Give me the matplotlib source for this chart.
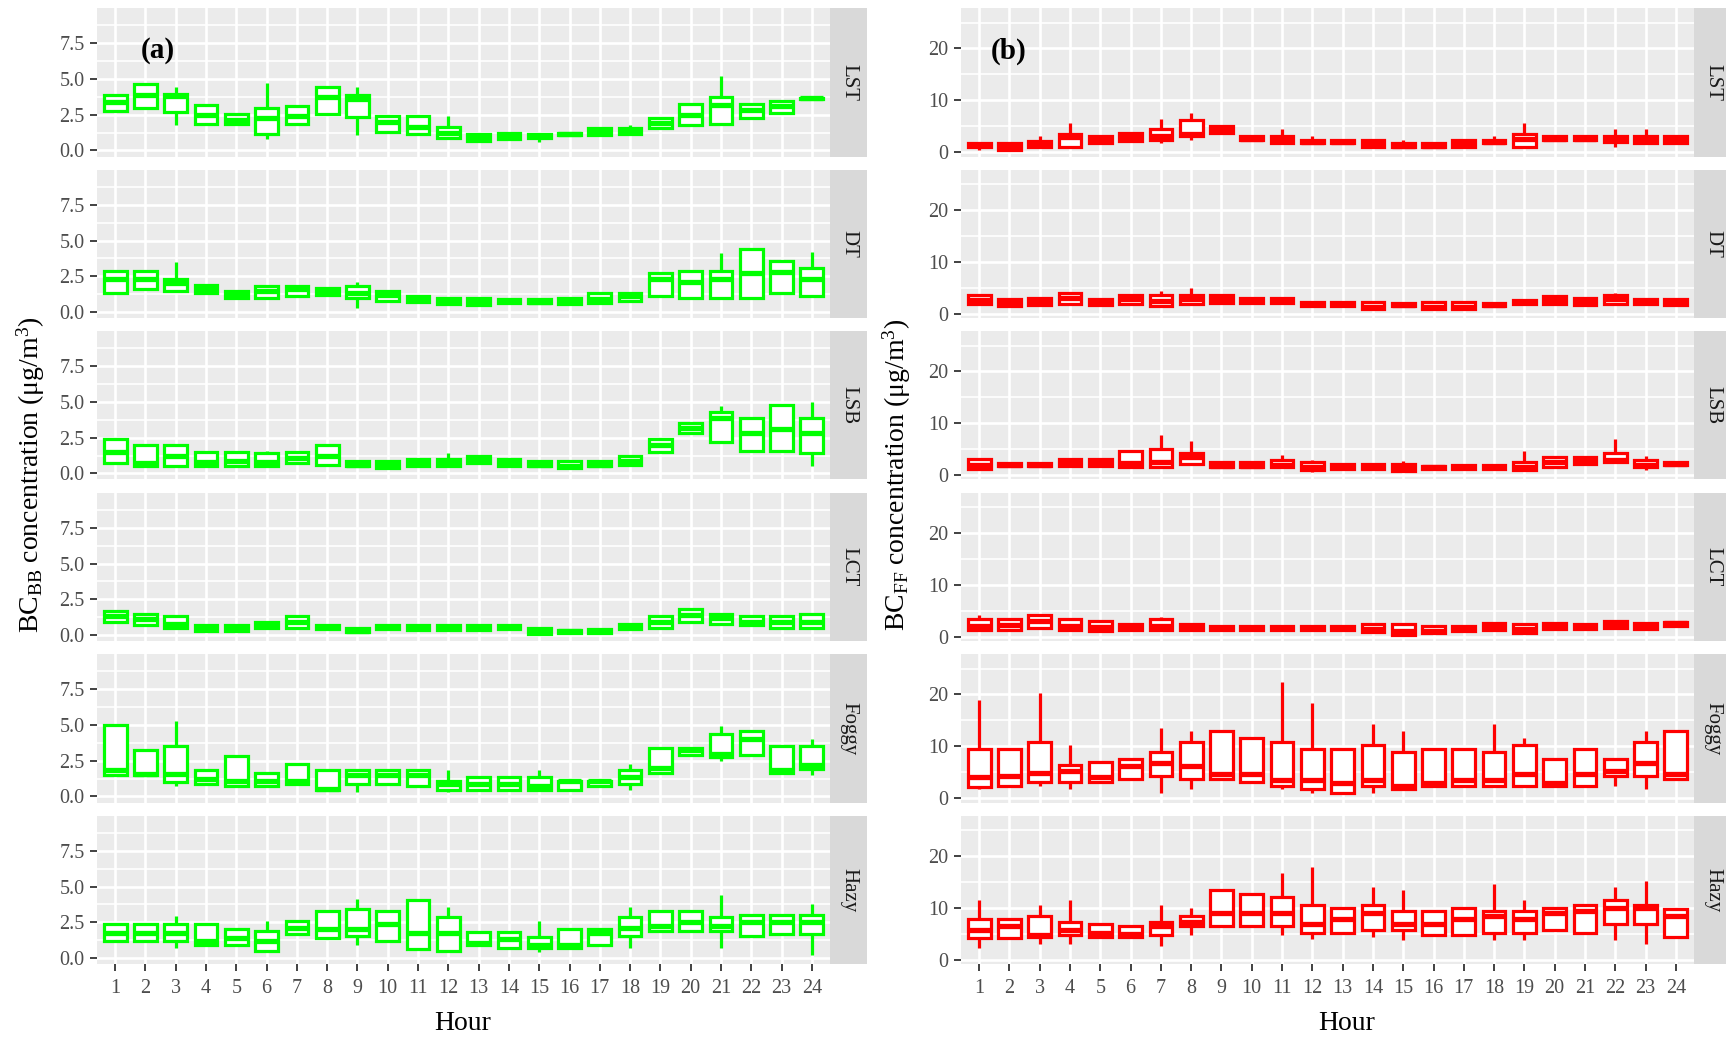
import matplotlib
matplotlib.use("Agg")
import matplotlib.pyplot as plt
from matplotlib.ticker import MultipleLocator, FormatStrFormatter, FixedLocator

plt.rcParams['font.family'] = ['Liberation Serif', 'DejaVu Serif']
plt.rcParams['mathtext.fontset'] = 'custom'
plt.rcParams['mathtext.rm'] = 'Liberation Serif'
plt.rcParams['mathtext.it'] = 'Liberation Serif:italic'
plt.rcParams['mathtext.bf'] = 'Liberation Serif:bold'

# ---------------------------------------------------------------- data
HOURS = list(range(1, 25))
FACETS = ['LST', 'DT', 'LSB', 'LCT', 'Foggy', 'Hazy']

# Biomass-burning BC: whisker low, Q1, median, Q3, whisker high per hour
BB_1 = dict(
    lo=[2.70, 2.90, 1.77, 1.80, 1.75, 0.83, 1.80, 2.50, 1.06, 1.30, 1.15, 0.83, 0.62, 0.80, 0.60, 1.04, 1.04, 1.06, 1.56, 1.75, 1.80, 2.27, 2.58, 3.60],
    q1=[2.77, 2.95, 2.70, 1.82, 1.82, 1.18, 1.82, 2.53, 2.32, 1.30, 1.18, 0.85, 0.64, 0.83, 0.87, 1.06, 1.06, 1.18, 1.58, 1.77, 1.82, 2.29, 2.60, 3.62],
    med=[3.38, 3.85, 3.80, 2.48, 2.10, 2.25, 2.43, 3.71, 3.60, 2.00, 1.65, 1.20, 0.90, 1.00, 1.00, 1.15, 1.30, 1.35, 1.90, 2.48, 3.19, 2.84, 3.10, 3.66],
    q3=[3.90, 4.66, 3.95, 3.19, 2.53, 2.95, 3.14, 4.42, 3.85, 2.43, 2.43, 1.65, 1.18, 1.25, 1.18, 1.25, 1.54, 1.54, 2.25, 3.24, 3.71, 3.24, 3.43, 3.70],
    hi=[3.95, 4.70, 4.42, 3.20, 2.55, 4.73, 3.15, 4.45, 4.42, 2.45, 2.45, 2.43, 1.20, 1.27, 1.20, 1.27, 1.56, 1.77, 2.27, 3.26, 5.20, 3.26, 3.45, 3.72],
)
BB_2 = dict(
    lo=[1.25, 1.55, 1.45, 1.25, 0.95, 0.95, 1.10, 1.15, 0.25, 0.75, 0.65, 0.50, 0.45, 0.60, 0.55, 0.50, 0.55, 0.75, 1.10, 0.95, 0.95, 0.95, 1.25, 1.10],
    q1=[1.30, 1.60, 1.50, 1.30, 1.00, 1.00, 1.15, 1.20, 1.00, 0.80, 0.70, 0.55, 0.50, 0.65, 0.60, 0.55, 0.60, 0.80, 1.15, 1.00, 1.00, 1.00, 1.30, 1.15],
    med=[2.30, 2.30, 2.00, 1.60, 1.20, 1.50, 1.60, 1.45, 1.30, 1.20, 0.90, 0.70, 0.80, 0.75, 0.70, 0.75, 0.90, 1.10, 2.30, 2.10, 2.30, 2.70, 2.80, 2.30],
    q3=[2.85, 2.85, 2.30, 1.90, 1.50, 1.80, 1.80, 1.70, 1.80, 1.50, 1.15, 1.00, 1.00, 0.90, 0.90, 1.00, 1.30, 1.30, 2.70, 2.85, 2.85, 4.40, 3.60, 3.10],
    hi=[2.90, 2.90, 3.50, 1.95, 1.55, 1.85, 1.85, 1.75, 2.10, 1.55, 1.20, 1.05, 1.05, 0.95, 0.95, 1.05, 1.35, 1.35, 2.75, 2.90, 4.10, 4.45, 3.65, 4.20],
)
BB_3 = dict(
    lo=[0.65, 0.45, 0.45, 0.45, 0.45, 0.45, 0.65, 0.55, 0.45, 0.30, 0.45, 0.45, 0.65, 0.50, 0.45, 0.30, 0.45, 0.55, 1.45, 2.75, 2.20, 1.60, 1.60, 0.50],
    q1=[0.70, 0.50, 0.50, 0.50, 0.50, 0.50, 0.70, 0.60, 0.50, 0.35, 0.50, 0.50, 0.70, 0.55, 0.50, 0.35, 0.50, 0.60, 1.50, 2.80, 2.20, 1.60, 1.60, 1.40],
    med=[1.50, 0.70, 1.20, 0.80, 0.90, 0.80, 1.10, 1.20, 0.60, 0.60, 0.70, 0.80, 0.95, 0.70, 0.60, 0.55, 0.60, 0.90, 2.00, 3.20, 3.90, 2.80, 3.10, 2.80],
    q3=[2.40, 2.00, 2.00, 1.50, 1.50, 1.40, 1.50, 2.00, 0.85, 0.85, 1.00, 1.00, 1.20, 1.00, 0.85, 0.85, 0.85, 1.20, 2.40, 3.50, 4.30, 3.90, 4.80, 3.90],
    hi=[2.45, 2.05, 2.05, 1.55, 1.55, 1.60, 1.55, 2.05, 0.90, 0.90, 1.05, 1.45, 1.25, 1.05, 0.90, 0.90, 0.90, 1.25, 2.45, 3.55, 4.70, 3.95, 4.85, 5.00],
)
BB_4 = dict(
    lo=[0.85, 0.65, 0.45, 0.25, 0.25, 0.45, 0.45, 0.35, 0.15, 0.35, 0.30, 0.30, 0.30, 0.35, 0.05, 0.10, 0.10, 0.35, 0.45, 0.85, 0.75, 0.65, 0.45, 0.45],
    q1=[0.90, 0.70, 0.50, 0.30, 0.30, 0.50, 0.50, 0.40, 0.20, 0.40, 0.35, 0.35, 0.35, 0.40, 0.10, 0.15, 0.15, 0.40, 0.50, 0.90, 0.80, 0.70, 0.50, 0.50],
    med=[1.30, 1.10, 0.80, 0.50, 0.45, 0.70, 0.90, 0.55, 0.30, 0.55, 0.50, 0.50, 0.50, 0.55, 0.30, 0.25, 0.25, 0.60, 0.90, 1.40, 1.20, 0.90, 0.90, 0.90],
    q3=[1.70, 1.50, 1.30, 0.70, 0.70, 0.90, 1.30, 0.70, 0.50, 0.70, 0.70, 0.70, 0.70, 0.70, 0.50, 0.35, 0.45, 0.80, 1.30, 1.80, 1.50, 1.30, 1.30, 1.50],
    hi=[1.75, 1.55, 1.35, 0.75, 0.75, 0.95, 1.35, 0.75, 0.55, 0.75, 0.75, 0.75, 0.75, 0.75, 0.55, 0.40, 0.50, 0.85, 1.35, 1.85, 1.55, 1.35, 1.35, 1.55],
)
BB_5 = dict(
    lo=[1.45, 1.45, 0.71, 0.85, 0.70, 0.70, 0.85, 0.40, 0.30, 0.85, 0.70, 0.30, 0.40, 0.40, 0.40, 0.40, 0.70, 0.42, 1.60, 2.85, 2.45, 2.85, 1.60, 1.50],
    q1=[1.48, 1.50, 1.00, 0.90, 0.71, 0.71, 0.90, 0.42, 0.90, 0.90, 0.71, 0.42, 0.42, 0.42, 0.42, 0.42, 0.71, 0.90, 1.65, 2.90, 2.73, 2.90, 1.65, 1.90],
    med=[1.82, 1.55, 1.55, 1.20, 1.06, 1.06, 1.06, 0.55, 1.53, 1.53, 1.50, 0.90, 0.90, 0.90, 0.71, 1.06, 1.06, 1.35, 2.00, 3.24, 2.96, 4.00, 1.82, 2.20],
    q3=[5.03, 3.24, 3.50, 1.82, 2.84, 1.65, 2.30, 1.82, 1.82, 1.82, 1.82, 1.10, 1.35, 1.35, 1.35, 1.10, 1.10, 1.82, 3.36, 3.36, 4.40, 4.60, 3.50, 3.50],
    hi=[5.05, 3.26, 5.30, 1.85, 2.86, 1.67, 2.32, 1.84, 1.84, 1.84, 1.84, 1.82, 1.37, 1.37, 1.82, 1.12, 1.12, 2.30, 3.38, 3.38, 4.90, 4.62, 3.52, 4.00],
)
BB_6 = dict(
    lo=[1.16, 1.16, 0.70, 0.92, 0.92, 0.47, 1.63, 1.38, 0.94, 1.16, 0.58, 0.45, 0.92, 0.69, 0.40, 0.69, 0.92, 0.71, 1.86, 1.86, 0.71, 1.51, 1.63, 0.20],
    q1=[1.18, 1.18, 1.18, 0.94, 0.94, 0.47, 1.65, 1.40, 1.53, 1.18, 0.60, 0.47, 0.94, 0.71, 0.71, 0.71, 0.94, 1.53, 1.88, 1.88, 1.88, 1.53, 1.65, 1.65],
    med=[1.77, 1.77, 1.77, 1.18, 1.40, 1.18, 2.10, 2.00, 2.00, 2.36, 1.77, 1.77, 1.06, 1.30, 0.94, 0.94, 1.77, 2.10, 2.27, 2.50, 2.27, 2.50, 2.50, 2.50],
    q3=[2.36, 2.36, 2.36, 2.36, 2.05, 1.90, 2.60, 3.30, 3.42, 3.30, 4.06, 2.90, 1.83, 1.83, 1.50, 2.05, 2.05, 2.90, 3.30, 3.30, 2.90, 3.00, 3.00, 3.00],
    hi=[2.38, 2.38, 2.95, 2.38, 2.07, 2.60, 2.62, 3.32, 4.13, 3.32, 4.08, 3.60, 1.85, 1.85, 2.60, 2.07, 2.07, 3.60, 3.32, 3.32, 4.40, 3.02, 3.02, 3.80],
)

# Fossil-fuel BC: whisker low, Q1, median, Q3, whisker high per hour
FF_1 = dict(
    lo=[0.40, 0.40, 0.90, 0.90, 1.60, 2.15, 1.80, 2.30, 3.60, 2.25, 1.60, 1.60, 1.60, 0.90, 0.90, 0.90, 0.90, 1.60, 0.96, 2.25, 2.25, 0.96, 1.60, 1.60],
    q1=[0.96, 0.45, 0.96, 0.96, 1.67, 2.20, 2.30, 3.10, 3.70, 2.30, 1.67, 1.67, 1.67, 0.96, 0.96, 0.96, 0.96, 1.67, 0.96, 2.30, 2.30, 1.90, 1.67, 1.67],
    med=[1.30, 0.90, 1.30, 2.90, 2.30, 2.90, 3.10, 3.40, 4.30, 2.60, 2.30, 1.90, 1.90, 1.50, 1.20, 1.20, 1.50, 1.90, 2.60, 2.60, 2.60, 2.50, 2.30, 2.30],
    q3=[1.67, 1.67, 2.20, 3.50, 3.10, 3.60, 4.40, 6.20, 5.00, 3.10, 3.10, 2.30, 2.30, 2.30, 1.67, 1.67, 2.30, 2.30, 3.40, 3.08, 3.08, 3.08, 3.08, 3.08],
    hi=[1.70, 1.70, 3.10, 5.60, 3.15, 3.65, 6.30, 7.56, 5.05, 3.15, 4.36, 3.10, 2.35, 2.35, 2.30, 1.70, 2.35, 3.08, 5.60, 3.10, 3.10, 4.36, 4.36, 3.10],
)
FF_2 = dict(
    lo=[1.8, 1.4, 1.6, 1.8, 1.6, 1.8, 1.4, 1.8, 2.0, 2.0, 2.0, 1.4, 1.4, 0.7, 1.4, 0.7, 0.7, 1.4, 1.8, 1.8, 1.6, 1.8, 1.8, 1.6],
    q1=[1.9, 1.5, 1.7, 1.9, 1.7, 1.9, 1.5, 1.9, 2.1, 2.1, 2.1, 1.5, 1.5, 0.8, 1.5, 0.8, 0.8, 1.5, 1.9, 1.9, 1.7, 1.9, 1.9, 1.7],
    med=[2.6, 2.2, 2.4, 3.0, 2.2, 2.8, 2.5, 2.8, 2.8, 2.5, 2.5, 1.8, 1.8, 1.3, 1.7, 1.3, 1.3, 1.7, 2.3, 2.6, 2.3, 2.8, 2.3, 2.2],
    q3=[3.5, 2.9, 3.1, 4.0, 2.9, 3.5, 3.5, 3.5, 3.5, 3.1, 3.1, 2.3, 2.3, 2.3, 2.1, 2.3, 2.3, 2.1, 2.7, 3.3, 3.1, 3.5, 2.9, 2.9],
    hi=[3.6, 3.0, 3.2, 4.1, 3.0, 3.6, 4.4, 5.0, 3.6, 3.2, 3.2, 2.4, 2.4, 2.4, 2.2, 2.4, 2.4, 2.2, 2.8, 3.4, 3.2, 4.0, 3.0, 3.0],
)
FF_3 = dict(
    lo=[1.2, 1.6, 1.6, 1.6, 1.6, 1.4, 1.4, 2.0, 1.4, 1.4, 1.4, 0.6, 1.2, 1.2, 0.7, 1.2, 1.2, 1.2, 0.9, 1.4, 2.0, 2.4, 0.9, 1.8],
    q1=[1.25, 1.7, 1.7, 1.7, 1.7, 1.5, 1.5, 2.1, 1.5, 1.5, 1.5, 1.0, 1.25, 1.25, 0.8, 1.25, 1.25, 1.25, 1.0, 1.5, 2.1, 2.5, 1.5, 1.9],
    med=[2.0, 2.0, 2.0, 2.5, 2.3, 2.3, 2.5, 3.5, 1.8, 1.8, 2.0, 1.5, 1.6, 1.6, 1.3, 1.5, 1.5, 1.5, 1.5, 2.5, 2.8, 3.0, 2.0, 2.1],
    q3=[3.1, 2.3, 2.3, 3.1, 3.1, 4.6, 5.0, 4.2, 2.5, 2.5, 2.9, 2.5, 2.1, 2.1, 2.1, 1.7, 1.9, 1.9, 2.5, 3.5, 3.5, 4.2, 2.9, 2.5],
    hi=[3.2, 2.4, 2.4, 3.2, 3.2, 4.7, 7.7, 6.5, 2.6, 2.6, 3.8, 2.9, 2.2, 2.2, 2.8, 1.8, 2.0, 2.0, 4.6, 3.6, 3.6, 7.0, 3.6, 2.6],
)
FF_4 = dict(
    lo=[1.2, 1.2, 1.6, 1.2, 1.0, 1.2, 1.2, 1.2, 1.2, 1.2, 1.2, 1.2, 1.2, 0.7, 0.3, 0.5, 1.0, 1.2, 0.5, 1.4, 1.4, 1.6, 1.4, 2.0],
    q1=[1.25, 1.25, 1.7, 1.25, 1.05, 1.25, 1.25, 1.25, 1.25, 1.25, 1.25, 1.25, 1.25, 0.8, 0.4, 0.6, 1.05, 1.25, 0.6, 1.5, 1.5, 1.7, 1.5, 2.1],
    med=[2.1, 2.3, 3.0, 2.1, 1.9, 1.9, 2.1, 2.0, 1.7, 1.7, 1.7, 1.7, 1.7, 1.5, 1.0, 1.0, 1.5, 2.0, 1.5, 2.2, 2.0, 2.5, 2.0, 2.6],
    q3=[3.3, 3.3, 4.2, 3.3, 3.1, 2.5, 3.3, 2.5, 2.1, 2.1, 2.1, 2.1, 2.1, 2.5, 2.5, 2.1, 2.1, 2.7, 2.5, 2.7, 2.5, 3.1, 2.7, 2.9],
    hi=[4.2, 3.4, 4.3, 3.4, 3.2, 2.6, 3.8, 2.6, 2.2, 2.2, 2.2, 2.2, 2.2, 2.6, 2.6, 2.2, 2.2, 2.8, 2.6, 2.8, 2.6, 3.2, 2.8, 3.0],
)
FF_5 = dict(
    lo=[1.7, 2.2, 2.3, 1.7, 3.0, 3.5, 1.0, 1.7, 3.5, 3.0, 1.7, 1.0, 0.9, 1.0, 1.6, 2.2, 2.2, 2.2, 2.2, 2.2, 2.2, 2.3, 1.7, 3.5],
    q1=[2.2, 2.3, 3.1, 3.1, 3.1, 3.6, 4.3, 3.6, 3.6, 3.1, 2.3, 1.7, 1.0, 2.3, 1.7, 2.3, 2.3, 2.3, 2.3, 2.3, 2.3, 4.3, 4.3, 3.6],
    med=[4.0, 4.3, 4.8, 5.3, 4.0, 6.1, 6.7, 6.1, 4.7, 4.7, 3.4, 3.4, 2.9, 3.4, 2.3, 2.9, 3.4, 3.4, 4.7, 2.9, 4.7, 5.3, 6.7, 4.7],
    q3=[9.5, 9.5, 10.9, 6.3, 7.0, 7.6, 8.9, 10.9, 13.0, 11.6, 10.9, 9.5, 9.5, 10.3, 8.9, 9.5, 9.5, 8.9, 10.3, 7.6, 9.5, 7.6, 10.9, 13.0],
    hi=[18.9, 9.6, 20.2, 10.3, 7.1, 7.7, 13.5, 12.9, 13.1, 11.7, 22.4, 18.3, 9.6, 14.3, 13.0, 9.6, 9.6, 14.3, 11.6, 7.7, 9.6, 7.7, 13.0, 13.1],
)
FF_6 = dict(
    lo=[2.3, 4.1, 3.0, 3.1, 4.3, 4.3, 2.7, 4.8, 6.4, 6.4, 4.8, 4.0, 5.1, 4.4, 3.8, 4.7, 4.7, 3.8, 3.8, 5.7, 5.1, 3.8, 3.1, 4.3],
    q1=[4.2, 4.2, 4.4, 4.8, 4.4, 4.4, 4.8, 6.5, 6.5, 6.5, 6.5, 5.2, 5.2, 5.8, 5.8, 4.8, 4.8, 5.2, 5.2, 5.8, 5.2, 6.9, 6.9, 4.4],
    med=[5.8, 6.5, 4.8, 5.8, 5.2, 5.0, 6.5, 7.3, 9.0, 9.0, 9.0, 6.9, 7.9, 9.0, 6.9, 6.9, 7.9, 8.5, 7.9, 9.0, 9.4, 10.0, 10.0, 8.5],
    q3=[7.9, 7.9, 8.5, 7.3, 6.9, 6.5, 7.3, 8.5, 13.5, 12.7, 12.0, 10.6, 10.0, 10.6, 9.4, 9.4, 10.0, 9.4, 9.4, 10.0, 10.6, 11.5, 10.6, 9.8],
    hi=[11.5, 8.0, 10.6, 11.5, 7.0, 6.6, 10.6, 10.0, 13.6, 12.8, 16.7, 17.9, 10.1, 14.0, 13.5, 9.5, 10.1, 14.6, 11.5, 10.1, 10.7, 14.0, 15.2, 9.9],
)

BB_SERIES = [BB_1, BB_2, BB_3, BB_4, BB_5, BB_6]
FF_SERIES = [FF_1, FF_2, FF_3, FF_4, FF_5, FF_6]

# ---------------------------------------------------------------- layout
W, H = 1726, 1039
fig = plt.figure(figsize=(W / 100, H / 100), dpi=100)

PANEL_W = 733
STRIP_W = 37
ROW_H = 148.5
ROW_TOP = [8 + i * 161.5 for i in range(6)]

PANEL_BG = '#EBEBEB'
STRIP_BG = '#D9D9D9'
TICK_TXT = '#4D4D4D'
TICK_COL = '#333333'


def rect(x0, top, w, h):
    return [x0 / W, 1 - (top + h) / H, w / W, h / H]


def to_stats(d):
    return [dict(whislo=lo, q1=a, med=m, q3=b, whishi=hi, fliers=[])
            for lo, a, m, b, hi in zip(d['lo'], d['q1'], d['med'], d['q3'], d['hi'])]


def draw_column(x0, series, color, ylim, major, minor, fmt):
    axes = []
    for i, (label, d) in enumerate(zip(FACETS, series)):
        ax = fig.add_axes(rect(x0, ROW_TOP[i], PANEL_W, ROW_H))
        ax.set_facecolor(PANEL_BG)
        for s in ax.spines.values():
            s.set_visible(False)
        ax.set_axisbelow(True)

        ax.bxp(to_stats(d), positions=HOURS, widths=0.75,
               showcaps=False, showfliers=False, patch_artist=True,
               manage_ticks=False,
               boxprops=dict(facecolor='white', edgecolor=color, linewidth=2.3,
                             joinstyle='miter'),
               whiskerprops=dict(color=color, linewidth=2.3, solid_capstyle='butt'),
               medianprops=dict(color=color, linewidth=3.8, solid_capstyle='butt'))

        ax.set_xlim(0.4, 24.6)
        ax.set_ylim(*ylim)
        ax.xaxis.set_major_locator(FixedLocator(HOURS))
        ax.yaxis.set_major_locator(MultipleLocator(major))
        ax.yaxis.set_minor_locator(MultipleLocator(minor))
        ax.yaxis.set_major_formatter(FormatStrFormatter(fmt))
        ax.grid(which='major', color='white', linewidth=1.9)
        ax.grid(which='minor', axis='y', color='white', linewidth=1.2)

        ax.tick_params(axis='y', which='major', length=5, width=1.3, color=TICK_COL,
                       labelsize=14.5, labelcolor=TICK_TXT, pad=4)
        ax.tick_params(which='minor', length=0)
        if i == len(FACETS) - 1:
            ax.set_xticks(HOURS)
            ax.set_xticklabels([str(h) for h in HOURS])
            ax.tick_params(axis='x', length=5, width=1.3, color=TICK_COL,
                           labelsize=14.5, labelcolor=TICK_TXT, pad=6)
        else:
            ax.tick_params(axis='x', length=0, labelbottom=False)

        # facet strip on the right-hand side
        sax = fig.add_axes(rect(x0 + PANEL_W, ROW_TOP[i], STRIP_W, ROW_H))
        sax.set_facecolor(STRIP_BG)
        sax.set_xticks([])
        sax.set_yticks([])
        for s in sax.spines.values():
            s.set_visible(False)
        sax.text(0.5, 0.5, label, rotation=-90, ha='center', va='center',
                 fontsize=15, color='#1A1A1A', transform=sax.transAxes)
        axes.append(ax)
    return axes


left_axes = draw_column(97, BB_SERIES, '#00FF00', (-0.42, 9.97), 2.5, 1.25, '%.1f')
right_axes = draw_column(961, FF_SERIES, '#FF0000', (-0.85, 27.8), 10, 5, '%d')

# panel tags
fig.text(158 / W, 1 - 51 / H, '(a)', fontsize=21, fontweight='bold',
         ha='center', va='center')
fig.text(1009 / W, 1 - 51 / H, '(b)', fontsize=21, fontweight='bold',
         ha='center', va='center')

# axis titles
fig.text(463 / W, 1 - 1024 / H, 'Hour', ha='center', va='center', fontsize=20)
fig.text(1347 / W, 1 - 1024 / H, 'Hour', ha='center', va='center', fontsize=20)
fig.text(31 / W, 1 - 475 / H, r'BC$_{\mathrm{BB}}$ concentration (μg/m$^{3}$)',
         rotation=90, ha='center', va='center', fontsize=20)
fig.text(897 / W, 1 - 475 / H, r'BC$_{\mathrm{FF}}$ concentration (μg/m$^{3}$)',
         rotation=90, ha='center', va='center', fontsize=20)

fig.savefig('out.png', dpi=100, facecolor='white')
